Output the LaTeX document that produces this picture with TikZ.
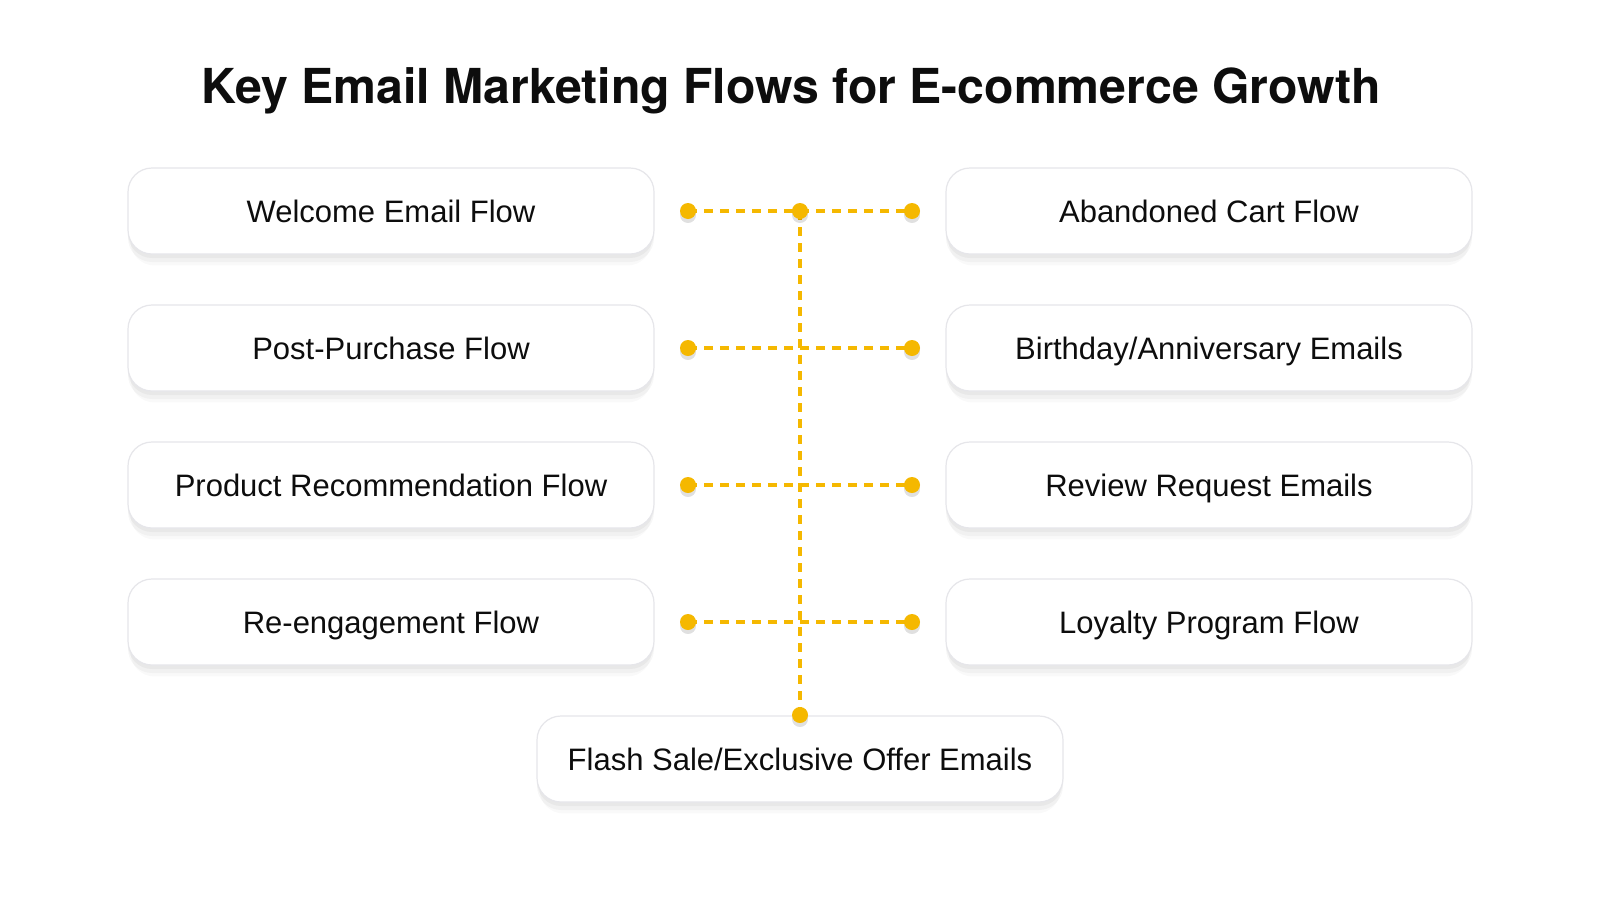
\documentclass[tikz,border=0pt]{standalone}
\usepackage{fontspec}
\setmainfont{Liberation Sans}
\newfontfamily\titlefont{TeX Gyre Heros}
\usetikzlibrary{shadows}

\definecolor{flowyellow}{HTML}{F5B800}
\definecolor{boxborder}{HTML}{E6E6EA}
\definecolor{textdark}{HTML}{0D0D0D}

\tikzset{
  flowbox/.style={draw=boxborder, line width=0.6pt, fill=white, rounded corners=12pt,
    minimum width=263pt, minimum height=43pt, inner sep=0pt,
    text height=11pt, text depth=0pt,
    font=\fontsize{15.5}{18}\selectfont, text=textdark,
    drop shadow={shadow xshift=0pt, shadow yshift=-6pt, shadow scale=0.99, fill=black, opacity=0.025},
    drop shadow={shadow xshift=0pt, shadow yshift=-4pt, fill=black, opacity=0.03},
    drop shadow={shadow xshift=0pt, shadow yshift=-2pt, fill=black, opacity=0.035}},
  flowdot/.style={circle, fill=flowyellow, minimum size=8pt, inner sep=0pt,
    drop shadow={shadow xshift=0pt, shadow yshift=-2pt, fill=black, opacity=0.12}},
  flowline/.style={draw=flowyellow, line width=1.6pt, dash pattern=on 4.5pt off 3.5pt}
}

\begin{document}
\begin{tikzpicture}[x=0.5pt, y=-0.5pt]
% Parameters
\def\xleft{391}; \def\xright{1209}; \def\xmid{800};
\def\xdotl{688}; \def\xdotr{912};
\def\rowone{211}; \def\rowtwo{348}; \def\rowthree{485}; \def\rowfour{622};
\def\rowlast{759}; \def\ydotlast{715};

% Canvas
\fill[white] (0,0) rectangle (1600,900);
\useasboundingbox (0,0) rectangle (1600,900);

% Title
\node[font=\titlefont\bfseries\fontsize{24.1}{29}\selectfont, text=textdark] (title) at (791,91)
  {Key Email Marketing Flows for E-commerce Growth};

% Boxes
\node[flowbox] (welcome) at (\xleft,\rowone) {Welcome Email Flow};
\node[flowbox] (postpurchase) at (\xleft,\rowtwo) {Post-Purchase Flow};
\node[flowbox] (recommend) at (\xleft,\rowthree) {Product Recommendation Flow};
\node[flowbox] (reengage) at (\xleft,\rowfour) {Re-engagement Flow};
\node[flowbox] (abandoned) at (\xright,\rowone) {Abandoned Cart Flow};
\node[flowbox] (birthday) at (\xright,\rowtwo) {Birthday/Anniversary Emails};
\node[flowbox] (review) at (\xright,\rowthree) {Review Request Emails};
\node[flowbox] (loyalty) at (\xright,\rowfour) {Loyalty Program Flow};
\node[flowbox] (flashsale) at (\xmid,\rowlast) {Flash Sale/Exclusive Offer Emails};

% Connectors
\coordinate (hub) at (\xmid,\rowone);
\draw[flowline] (\xdotl,\rowone) coordinate (dl1) -- (hub) -- (\xdotr,\rowone) coordinate (dr1);
\draw[flowline] (\xdotl,\rowtwo) coordinate (dl2) -- (\xdotr,\rowtwo) coordinate (dr2);
\draw[flowline] (\xdotl,\rowthree) coordinate (dl3) -- (\xdotr,\rowthree) coordinate (dr3);
\draw[flowline] (\xdotl,\rowfour) coordinate (dl4) -- (\xdotr,\rowfour) coordinate (dr4);
\draw[flowline] (hub) -- (\xmid,\ydotlast) coordinate (dbottom);

% Dots
\foreach \d in {dl1,dr1,dl2,dr2,dl3,dr3,dl4,dr4,hub,dbottom}
  \node[flowdot] at (\d) {};
\end{tikzpicture}
\end{document}
